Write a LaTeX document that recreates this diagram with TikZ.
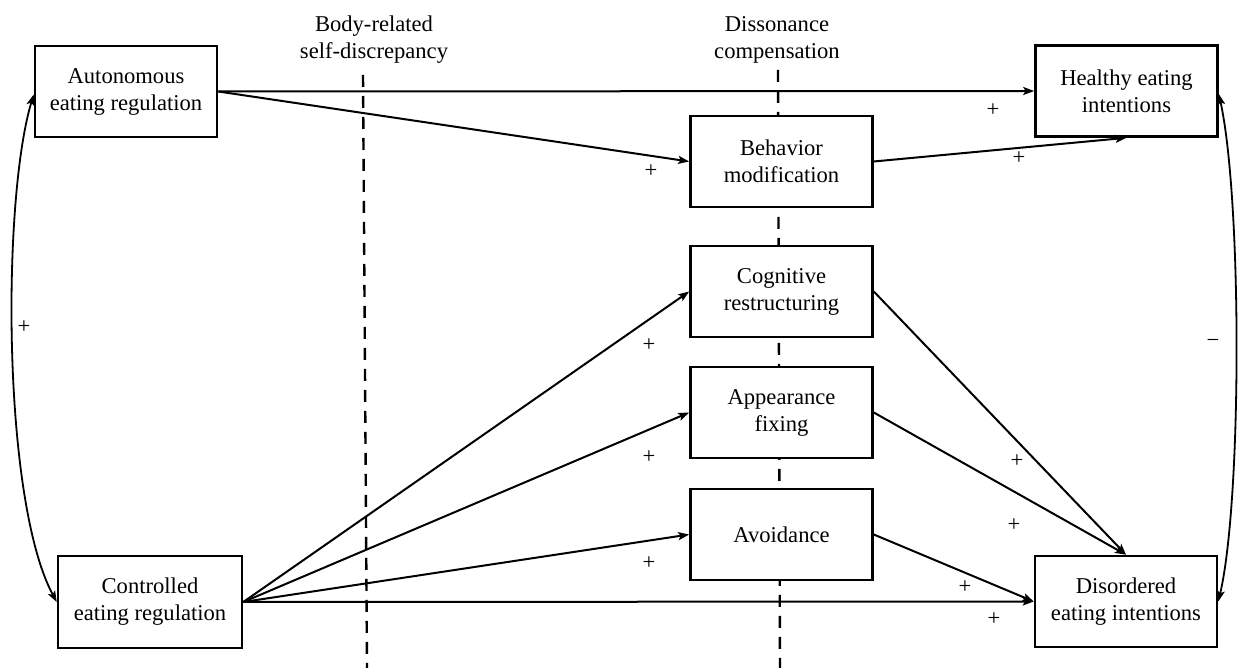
\documentclass[tikz,border=0pt]{standalone}
\usepackage{fontspec}
\setmainfont{Liberation Serif}
\usetikzlibrary{arrows.meta}
\begin{document}
\begin{tikzpicture}[x=0.5pt,y=-0.5pt,
  txt/.style={font=\fontsize{11.3}{13.5}\selectfont},
  box/.style={txt, draw, line width=1.3pt, fill=white, minimum width=91pt,
    minimum height=45.5pt, align=center, inner sep=0pt},
  arr/.style={line width=1pt, -{Stealth[length=5.5pt,width=4pt,inset=1.2pt]}},
  dbl/.style={line width=0.9pt, {Stealth[length=5.5pt,width=4pt,inset=1.2pt]}-{Stealth[length=5.5pt,width=4pt,inset=1.2pt]}},
  divider/.style={line width=1.2pt, dash pattern=on 6pt off 4.5pt},
  sign/.style={txt, inner sep=0pt},
  head/.style={txt, align=center, inner sep=0pt}
]
\useasboundingbox (0,0) rectangle (1239,668);

% dividers
\coordinate (d1t) at (363,75);
\coordinate (d1b) at (367,668);
\coordinate (d2t) at (778,70);
\coordinate (d2b) at (780,668);
\draw[divider] (d1t) -- (d1b);
\draw[divider] (d2t) -- (d2b);

\node[head] (h1) at (374,40) {Body-related\\self-discrepancy};
\node[head] (h2) at (777,40) {Dissonance\\compensation};

% boxes
\node[box] (aut) at (126,91.5) {Autonomous\\eating regulation};
\node[box, minimum width=92pt, minimum height=46pt] (con) at (150,602) {Controlled\\eating regulation};
\node[box] (heal) at (1126.5,91) {Healthy eating\\intentions};
\node[box] (beh) at (781.5,161.5) {Behavior\\modification};
\node[box] (cog) at (781.5,291.5) {Cognitive\\restructuring};
\node[box] (app) at (781.5,412.5) {Appearance\\fixing};
\node[box] (avo) at (781.5,534.5) {Avoidance};
\node[box] (dis) at (1126,601.5) {Disordered\\eating intentions};

% paths
\draw[arr] (aut.east) -- (heal.west);
\draw[arr] (aut.east) -- (beh.west);
\draw[arr] (beh.east) -- (heal.south);
\draw[arr] (con.east) -- (cog.west);
\draw[arr] (con.east) -- (app.west);
\draw[arr] (con.east) -- (avo.west);
\draw[arr] (con.east) -- (dis.west);
\draw[arr] (cog.east) -- (dis.north);
\draw[arr] (app.east) -- (dis.north);
\draw[arr] (avo.east) -- (dis.west);

% correlations
\draw[dbl] ([yshift=-1.5pt]aut.west) .. controls (2,200) and (2,500) .. (con.west);
\draw[dbl] ([yshift=-1.5pt]heal.east) .. controls (1242,200) and (1242,500) .. (dis.east);

% signs
\node[sign] (s1) at (993,110) {+};
\node[sign] (s2) at (651,171) {+};
\node[sign] (s3) at (1019,158) {+};
\node[sign] (s4) at (649,345) {+};
\node[sign] (s5) at (649,457) {+};
\node[sign] (s6) at (649,563) {+};
\node[sign] (s7) at (1017,461) {+};
\node[sign] (s8) at (1014,525) {+};
\node[sign] (s9) at (965,587) {+};
\node[sign] (s10) at (994,619) {+};
\node[sign] (s11) at (24,327) {+};
\node[sign] (s12) at (1213,343) {−};
\end{tikzpicture}
\end{document}
